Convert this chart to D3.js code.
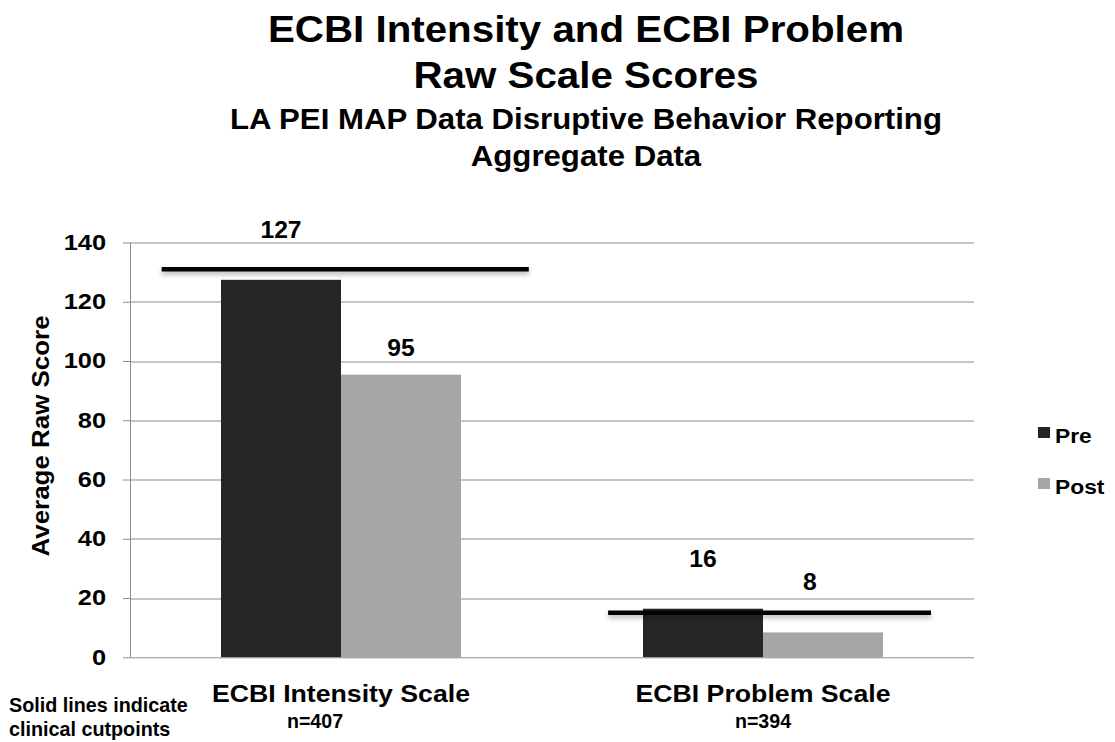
<!DOCTYPE html>
<html>
<head>
  <style>
    body { margin: 0; background: #fff; }
    text { font-family: Arial, "Liberation Sans", sans-serif; font-weight: bold; fill: #000; }
    .narrow { font-family: "Liberation Sans Narrow", "Arial Narrow", Arial, sans-serif; }
    .grid line { stroke: #8c8c8c; stroke-width: 1px; }
  </style>
</head>
<body>
  <svg id="chart" width="1115" height="742"></svg>

  <script src="https://d3js.org/d3.v7.min.js"></script>
  <script>
    // Data
    const categories = ["ECBI Intensity Scale", "ECBI Problem Scale"];
    const sampleSizes = ["n=407", "n=394"];
    const series = ["Pre", "Post"];
    const preValues = [127.4, 16.4];
    const postValues = [95.4, 8.4];
    const cutpoints = [131, 15];
    const yTicks = [0, 20, 40, 60, 80, 100, 120, 140];

    const colors = { Pre: "#262626", Post: "#a6a6a6" };

    // the original text is drawn a little wider than the font's own proportions
    function stretch(sel, k) {
      sel.each(function () {
        const w = this.getComputedTextLength();
        this.setAttribute("textLength", w * k);
        this.setAttribute("lengthAdjust", "spacingAndGlyphs");
      });
    }

    const svg = d3.select("#chart");
    const margin = { left: 130, right: 141, top: 242.5, bottom: 84.7 };
    const width = 1115 - margin.left - margin.right;
    const height = 742 - margin.top - margin.bottom;

    const g = svg.append("g").attr("transform", `translate(${margin.left},${margin.top})`);

    const x0 = d3.scaleBand().domain(categories).range([0, width]);
    const x1 = d3.scaleBand().domain(series).range([0, 240]);
    const y = d3.scaleLinear().domain([0, 140]).range([height, 0]);

    // drop shadow for the cutpoint lines
    const defs = svg.append("defs");
    const f = defs.append("filter").attr("id", "shadow")
      .attr("filterUnits", "userSpaceOnUse")
      .attr("x", -200).attr("y", -300).attr("width", 1400).attr("height", 1100);
    f.append("feDropShadow").attr("dx", 0).attr("dy", 3).attr("stdDeviation", 2.5)
      .attr("flood-color", "#000").attr("flood-opacity", 0.3);

    // gridlines
    g.append("g").attr("class", "grid")
      .selectAll("line").data(yTicks.filter(d => d > 0)).enter().append("line")
      .attr("x1", 0).attr("x2", width)
      .attr("y1", d => Math.round(y(d)) + 0.5).attr("y2", d => Math.round(y(d)) + 0.5);

    // y axis
    const yAxis = g.append("g")
      .call(d3.axisLeft(y).tickValues(yTicks).tickSize(7).tickPadding(17));
    yAxis.select(".domain").attr("stroke", "#8c8c8c").attr("d", `M0.5,0V${height}`);
    yAxis.selectAll(".tick line").attr("stroke", "#8c8c8c");
    yAxis.selectAll(".tick text").style("font-size", "21.5px").attr("fill", "#000")
      .style("font-family", "Arial, 'Liberation Sans', sans-serif").style("font-weight", "bold")
      .call(stretch, 1.18);

    // bars
    const rows = categories.map((c, i) => ({ cat: c, Pre: preValues[i], Post: postValues[i] }));
    const groups = g.selectAll(".grp").data(rows).enter().append("g")
      .attr("transform", d => `translate(${x0(d.cat) + x0.bandwidth() / 2 - 120},0)`);

    groups.selectAll("rect").data(d => series.map(s => ({ s, v: d[s] }))).enter().append("rect")
      .attr("x", d => x1(d.s))
      .attr("width", x1.bandwidth())
      .attr("y", d => y(d.v))
      .attr("height", d => height - y(d.v))
      .attr("fill", d => colors[d.s]);

    // baseline
    g.append("line").attr("x1", 0).attr("x2", width)
      .attr("y1", height + 0.5).attr("y2", height + 0.5).attr("stroke", "#8c8c8c");

    // cutpoint lines (drawn over bars)
    const cutExtent = [[0.075, 0.945], [0.133, 0.898]];
    g.selectAll(".cut").data(cutpoints).enter().append("line")
      .attr("x1", (d, i) => x0(categories[i]) + cutExtent[i][0] * x0.bandwidth())
      .attr("x2", (d, i) => x0(categories[i]) + cutExtent[i][1] * x0.bandwidth())
      .attr("y1", d => y(d)).attr("y2", d => y(d))
      .attr("stroke", "#000").attr("stroke-width", 4.5)
      .attr("filter", "url(#shadow)");

    // value labels
    const labelGap = { Pre: [42, 42], Post: [19, 42] };
    const labelShift = { Pre: [0, 0], Post: [0, -13] };
    groups.each(function (d, i) {
      d3.select(this).selectAll(".val").data(series).enter().append("text")
        .attr("x", s => x1(s) + x1.bandwidth() / 2 + labelShift[s][i])
        .attr("y", s => y(d[s]) - labelGap[s][i])
        .attr("text-anchor", "middle")
        .style("font-size", "23.5px")
        .text(s => d3.format(".0f")(d[s]))
        .call(stretch, 1.05);
    });

    // category labels
    g.selectAll(".cat").data(categories).enter().append("text")
      .attr("x", d => x0(d) + x0.bandwidth() / 2)
      .attr("y", height + 45)
      .attr("text-anchor", "middle")
      .style("font-size", "23px")
      .text(d => d)
      .call(stretch, 1.16);

    const nShift = [-26, 0];
    g.selectAll(".n").data(sampleSizes).enter().append("text")
      .attr("class", "narrow")
      .attr("x", (d, i) => x0(categories[i]) + x0.bandwidth() / 2 + nShift[i])
      .attr("y", height + 71)
      .attr("text-anchor", "middle")
      .style("font-size", "20px")
      .text(d => d)
      .call(stretch, 0.98);

    // legend
    const legend = svg.append("g").attr("transform", "translate(1038,427)");
    series.forEach((s, i) => {
      legend.append("rect").attr("x", 0).attr("y", i * 51).attr("width", 12).attr("height", 11)
        .attr("fill", colors[s]);
      legend.append("text").attr("x", 17).attr("y", i * 51 + 16)
        .style("font-size", "20px").text(s)
        .call(stretch, 1.14);
    });

    // titles
    const titles = [
      { t: "ECBI Intensity and ECBI Problem", y: 42, size: 37.5 },
      { t: "Raw Scale Scores", y: 88, size: 37.5 },
      { t: "LA PEI MAP Data Disruptive Behavior Reporting", y: 129, size: 29 },
      { t: "Aggregate Data", y: 166, size: 29 }
    ];
    svg.selectAll(".title").data(titles).enter().append("text")
      .attr("x", 586).attr("y", d => d.y)
      .attr("text-anchor", "middle")
      .style("font-size", d => d.size + "px")
      .text(d => d.t)
      .call(stretch, 1.075);

    // y axis title
    svg.append("text")
      .attr("transform", "translate(49,436) rotate(-90)")
      .attr("text-anchor", "middle")
      .style("font-size", "24px")
      .text("Average Raw Score")
      .call(stretch, 1.08);

    // note
    const note = svg.append("text").attr("class", "narrow").style("font-size", "21px");
    note.append("tspan").attr("x", 9).attr("y", 712).text("Solid lines indicate");
    note.append("tspan").attr("x", 9).attr("y", 736).text("clinical cutpoints");
    note.selectAll("tspan").call(stretch, 0.94);
  </script>
</body>
</html>
